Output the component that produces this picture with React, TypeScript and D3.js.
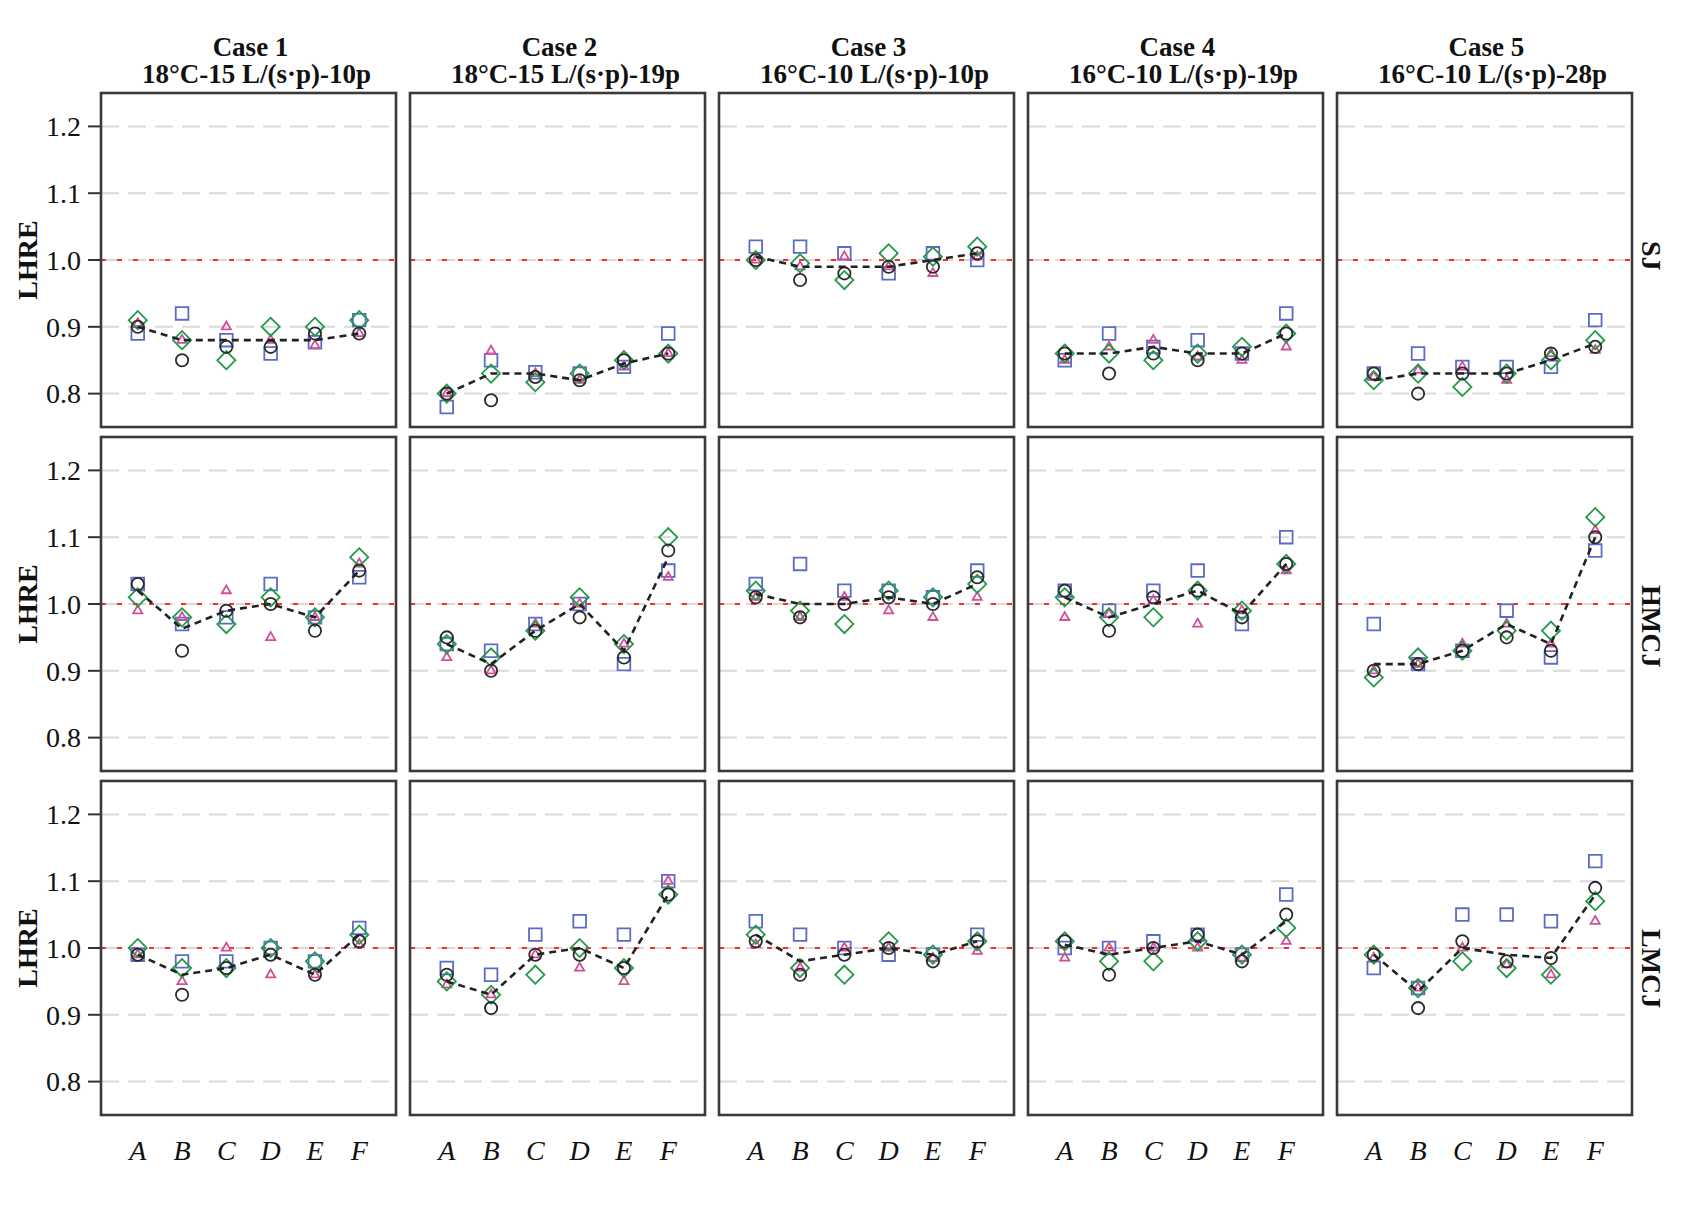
import React from 'react'
import * as d3 from 'd3'

// categories / facets
const categories = ['A', 'B', 'C', 'D', 'E', 'F']
const caseTitles = ['Case 1', 'Case 2', 'Case 3', 'Case 4', 'Case 5']
const caseSubtitles = [
  '18°C-15 L/(s·p)-10p',
  '18°C-15 L/(s·p)-19p',
  '16°C-10 L/(s·p)-10p',
  '16°C-10 L/(s·p)-19p',
  '16°C-10 L/(s·p)-28p',
]
const rowLabels = ['SJ', 'HMCJ', 'LMCJ']
const yTicks = [0.8, 0.9, 1.0, 1.1, 1.2]

// SJ row — one inner array per case, values for A..F
const sjSquare = [
  [0.89, 0.92, 0.88, 0.86, 0.877, 0.91],
  [0.78, 0.85, 0.832, 0.83, 0.84, 0.89],
  [1.02, 1.02, 1.01, 0.98, 1.01, 1.0],
  [0.85, 0.89, 0.87, 0.88, 0.86, 0.92],
  [0.83, 0.86, 0.84, 0.84, 0.84, 0.91],
]
const sjTriangle = [
  [0.905, 0.88, 0.9, 0.88, 0.872, 0.89],
  [0.8, 0.864, 0.83, 0.82, 0.84, 0.86],
  [1.0, 0.99, 1.005, 0.99, 0.98, 1.005],
  [0.85, 0.87, 0.88, 0.855, 0.85, 0.87],
  [0.825, 0.835, 0.84, 0.82, 0.86, 0.865],
]
const sjDiamond = [
  [0.91, 0.88, 0.85, 0.9, 0.9, 0.91],
  [0.8, 0.83, 0.817, 0.83, 0.85, 0.86],
  [1.0, 0.995, 0.97, 1.01, 1.005, 1.02],
  [0.86, 0.86, 0.85, 0.86, 0.87, 0.89],
  [0.82, 0.83, 0.81, 0.83, 0.85, 0.88],
]
const sjCircle = [
  [0.9, 0.85, 0.87, 0.87, 0.89, 0.89],
  [0.8, 0.79, 0.825, 0.82, 0.85, 0.86],
  [1.0, 0.97, 0.98, 0.99, 0.99, 1.01],
  [0.86, 0.83, 0.86, 0.85, 0.86, 0.89],
  [0.83, 0.8, 0.83, 0.83, 0.86, 0.87],
]
const sjLine = [
  [0.9, 0.88, 0.88, 0.88, 0.88, 0.89],
  [0.8, 0.83, 0.83, 0.82, 0.845, 0.86],
  [1.005, 0.99, 0.99, 0.99, 1.0, 1.01],
  [0.86, 0.86, 0.87, 0.86, 0.86, 0.89],
  [0.82, 0.83, 0.83, 0.83, 0.85, 0.875],
]

// HMCJ row
const hmSquare = [
  [1.03, 0.97, 0.98, 1.03, 0.98, 1.04],
  [0.94, 0.93, 0.97, 1.0, 0.91, 1.05],
  [1.03, 1.06, 1.02, 1.02, 1.01, 1.05],
  [1.02, 0.99, 1.02, 1.05, 0.97, 1.1],
  [0.97, 0.91, 0.93, 0.99, 0.92, 1.08],
]
const hmTriangle = [
  [0.99, 0.98, 1.02, 0.95, 0.98, 1.06],
  [0.92, 0.9, 0.97, 1.0, 0.94, 1.04],
  [1.01, 0.98, 1.01, 0.99, 0.98, 1.01],
  [0.98, 0.985, 1.005, 0.97, 0.99, 1.05],
  [0.9, 0.91, 0.94, 0.97, 0.94, 1.11],
]
const hmDiamond = [
  [1.01, 0.98, 0.97, 1.01, 0.98, 1.07],
  [0.94, 0.92, 0.96, 1.01, 0.94, 1.1],
  [1.02, 0.99, 0.97, 1.02, 1.01, 1.03],
  [1.01, 0.98, 0.98, 1.02, 0.99, 1.06],
  [0.89, 0.92, 0.93, 0.96, 0.96, 1.13],
]
const hmCircle = [
  [1.03, 0.93, 0.99, 1.0, 0.96, 1.05],
  [0.95, 0.9, 0.96, 0.98, 0.92, 1.08],
  [1.01, 0.98, 1.0, 1.01, 1.0, 1.04],
  [1.02, 0.96, 1.01, 1.02, 0.98, 1.06],
  [0.9, 0.91, 0.93, 0.95, 0.93, 1.1],
]
const hmLine = [
  [1.02, 0.963, 0.99, 1.0, 0.98, 1.05],
  [0.94, 0.91, 0.96, 1.0, 0.93, 1.07],
  [1.015, 1.0, 1.0, 1.01, 1.0, 1.03],
  [1.01, 0.98, 1.0, 1.02, 0.985, 1.06],
  [0.91, 0.91, 0.93, 0.97, 0.94, 1.1],
]

// LMCJ row
const lmSquare = [
  [0.99, 0.98, 0.98, 1.0, 0.98, 1.03],
  [0.97, 0.96, 1.02, 1.04, 1.02, 1.1],
  [1.04, 1.02, 1.0, 0.99, 0.99, 1.02],
  [1.0, 1.0, 1.01, 1.02, 0.99, 1.08],
  [0.97, 0.94, 1.05, 1.05, 1.04, 1.13],
]
const lmTriangle = [
  [0.99, 0.95, 1.0, 0.96, 0.96, 1.005],
  [0.945, 0.93, 0.99, 0.97, 0.95, 1.1],
  [1.005, 0.97, 1.0, 1.0, 0.985, 0.995],
  [0.985, 1.0, 1.0, 1.0, 0.985, 1.01],
  [0.985, 0.94, 1.0, 0.975, 0.96, 1.04],
]
const lmDiamond = [
  [1.0, 0.97, 0.97, 1.0, 0.98, 1.02],
  [0.95, 0.93, 0.96, 1.0, 0.97, 1.08],
  [1.02, 0.97, 0.96, 1.01, 0.99, 1.01],
  [1.01, 0.98, 0.98, 1.01, 0.99, 1.03],
  [0.99, 0.94, 0.98, 0.97, 0.96, 1.07],
]
const lmCircle = [
  [0.99, 0.93, 0.97, 0.99, 0.96, 1.01],
  [0.96, 0.91, 0.99, 0.99, 0.97, 1.08],
  [1.01, 0.96, 0.99, 1.0, 0.98, 1.01],
  [1.01, 0.96, 1.0, 1.02, 0.98, 1.05],
  [0.99, 0.91, 1.01, 0.98, 0.985, 1.09],
]
const lmLine = [
  [0.99, 0.96, 0.97, 0.99, 0.96, 1.02],
  [0.95, 0.93, 0.99, 1.0, 0.97, 1.08],
  [1.02, 0.98, 0.99, 1.0, 0.99, 1.01],
  [1.005, 0.99, 1.0, 1.01, 0.99, 1.04],
  [0.99, 0.935, 1.0, 0.99, 0.985, 1.08],
]

const rows = [
  { square: sjSquare, triangle: sjTriangle, diamond: sjDiamond, circle: sjCircle, line: sjLine },
  { square: hmSquare, triangle: hmTriangle, diamond: hmDiamond, circle: hmCircle, line: hmLine },
  { square: lmSquare, triangle: lmTriangle, diamond: lmDiamond, circle: lmCircle, line: lmLine },
]

const W = 1690
const H = 1220
const FONT = '"Liberation Serif", "DejaVu Serif", serif'

const markers = [
  { key: 'square', color: '#5b6cc6', path: d3.symbol(d3.symbolSquare, 160)() as string, rotate: 0 },
  { key: 'triangle', color: '#d24f98', path: d3.symbol(d3.symbolTriangle, 36)() as string, rotate: 0 },
  { key: 'diamond', color: '#25994a', path: d3.symbol(d3.symbolSquare, 165)() as string, rotate: 45 },
  { key: 'circle', color: '#2b2b2b', path: d3.symbol(d3.symbolCircle, 118)() as string, rotate: 0 },
] as const

export default function App() {
  const colBand = d3.scaleBand<number>().domain(d3.range(5)).range([101, 1632]).paddingInner(0.0453)
  const rowBand = d3.scaleBand<number>().domain(d3.range(3)).range([93, 1115]).paddingInner(0.029)
  const pw = colBand.bandwidth()
  const ph = rowBand.bandwidth()

  const x = d3.scalePoint<string>().domain(categories).range([0, pw]).padding(0.83)
  const y = d3.scaleLinear().domain([0.75, 1.25]).range([ph, 0])

  const line = d3
    .line<number>()
    .x((_, i) => x(categories[i])!)
    .y(d => y(d))

  return (
    <svg
      width={W}
      height={H}
      style={{ position: 'absolute', left: 0, top: 0, background: '#fff' }}
      fontFamily={FONT}
    >
      {/* column strips */}
      {caseTitles.map((t, c) => {
        const cx = colBand(c)! + pw / 2
        return (
          <g key={t} fontWeight="bold" fontSize={27} textAnchor="middle" fill="#111">
            <text x={cx + 2} y={56}>{t}</text>
            <text x={cx + 8} y={83}>{caseSubtitles[c]}</text>
          </g>
        )
      })}

      {rows.map((row, r) => {
        const ty = rowBand(r)!
        return (
          <g key={r}>
            {/* y axis title */}
            <text
              transform={`translate(37,${ty + ph / 2}) rotate(-90)`}
              textAnchor="middle"
              fontWeight="bold"
              fontSize={28}
              fill="#111"
            >
              LHRE
            </text>
            {/* y ticks (first column only) */}
            {yTicks.map(v => (
              <g key={v} transform={`translate(${colBand(0)!},${ty + y(v)})`}>
                <line x1={-13} x2={0} stroke="#333" strokeWidth={2} />
                <text x={-20} dy="0.35em" textAnchor="end" fontSize={28} fill="#111">
                  {d3.format('.1f')(v)}
                </text>
              </g>
            ))}
            {/* row strip label */}
            <text
              transform={`translate(1642,${ty + 148}) rotate(90)`}
              textAnchor="start"
              fontWeight="bold"
              fontSize={28}
              fill="#111"
            >
              {rowLabels[r]}
            </text>

            {caseTitles.map((_, c) => {
              const tx = colBand(c)!
              return (
                <g key={c} transform={`translate(${tx},${ty})`}>
                  <rect width={pw} height={ph} fill="#fff" />
                  {yTicks.map(v => (
                    <line
                      key={v}
                      x1={0}
                      x2={pw}
                      y1={y(v)}
                      y2={y(v)}
                      stroke="#d9d9d9"
                      strokeWidth={2}
                      strokeDasharray="18 9"
                    />
                  ))}
                  <line
                    x1={0}
                    x2={pw}
                    y1={y(1)}
                    y2={y(1)}
                    stroke="#ff2a2a"
                    strokeWidth={2}
                    strokeDasharray="5 11"
                  />
                  {markers.map(m =>
                    (row[m.key][c] as number[]).map((v, i) => (
                      <path
                        key={`${m.key}${i}`}
                        d={m.path}
                        transform={`translate(${x(categories[i])},${y(v)}) rotate(${m.rotate})`}
                        fill="none"
                        stroke={m.color}
                        strokeWidth={1.8}
                      />
                    ))
                  )}
                  <path
                    d={line(row.line[c]) as string}
                    fill="none"
                    stroke="#222"
                    strokeWidth={2.6}
                    strokeDasharray="7 5"
                  />
                  <rect width={pw} height={ph} fill="none" stroke="#3a3a3a" strokeWidth={2.6} />
                  {r === 2 &&
                    categories.map(cat => (
                      <text
                        key={cat}
                        x={x(cat)}
                        y={ph + 45}
                        textAnchor="middle"
                        fontStyle="italic"
                        fontSize={28}
                        fill="#111"
                      >
                        {cat}
                      </text>
                    ))}
                </g>
              )
            })}
          </g>
        )
      })}
    </svg>
  )
}
